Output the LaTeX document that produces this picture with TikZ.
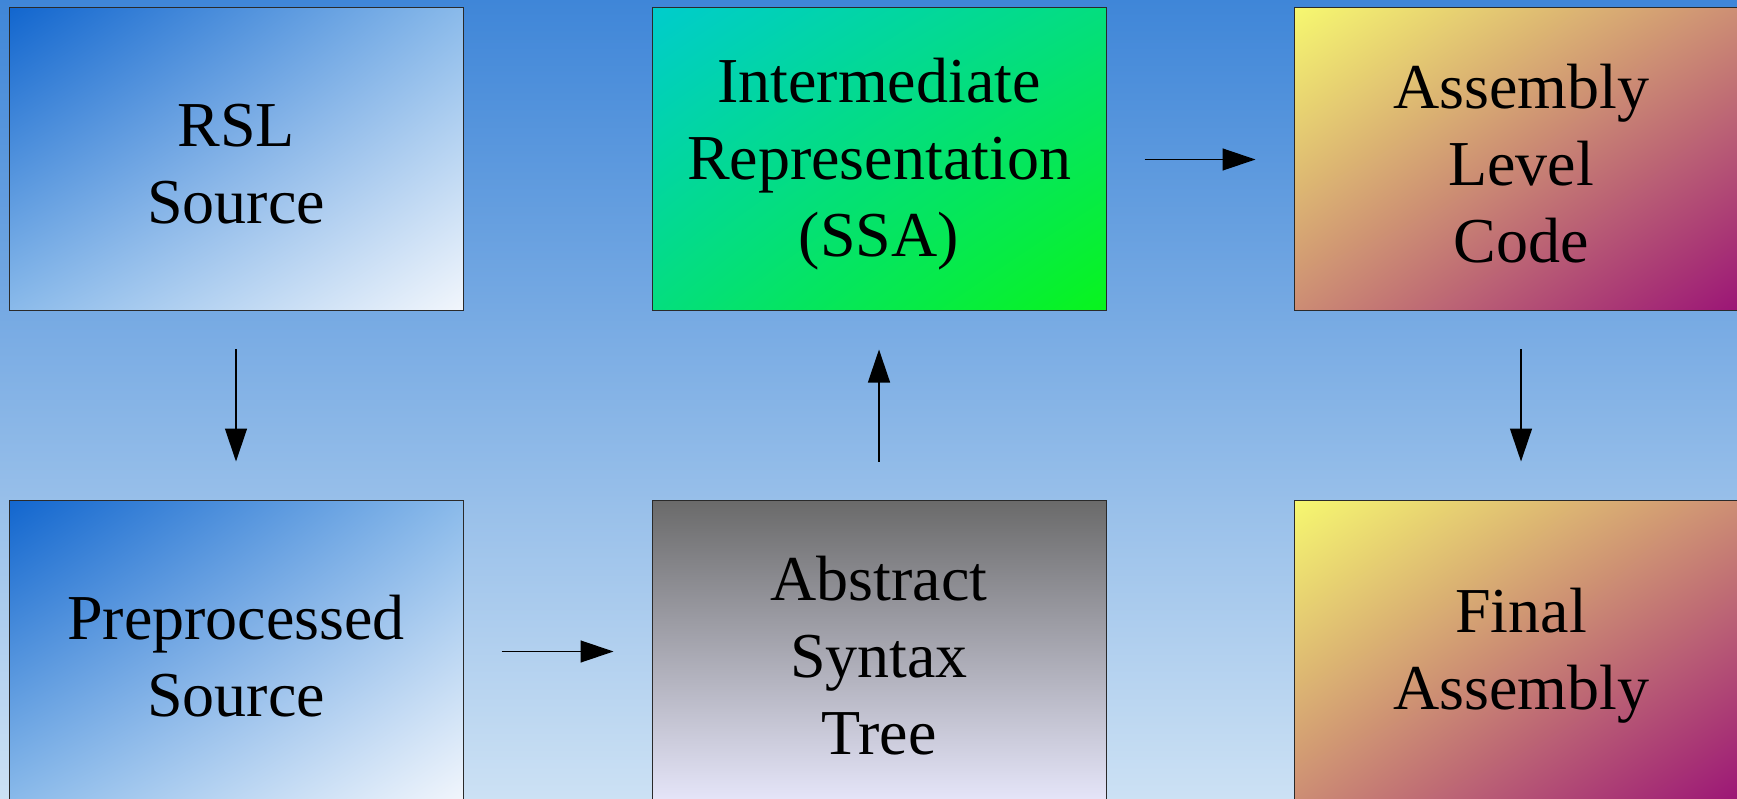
\documentclass[tikz,border=0pt]{standalone}
\usepackage{fontspec}
\setmainfont{Liberation Serif}
\usetikzlibrary{arrows.meta,shadings}
\definecolor{bgtop}{HTML}{3F86D8}
\definecolor{bgbot}{HTML}{CCE1F4}
\definecolor{blueA}{HTML}{1266CE}
\definecolor{blueM}{HTML}{8ABAEA}
\definecolor{blueB}{HTML}{F2F6FC}
\definecolor{cyanA}{HTML}{00CCCC}
\definecolor{cyanM}{HTML}{04DE7E}
\definecolor{greenB}{HTML}{08F51C}
\definecolor{yelA}{HTML}{F6F870}
\definecolor{tanM}{HTML}{CC8C74}
\definecolor{purB}{HTML}{9A1276}
\definecolor{grayA}{HTML}{6A6A6A}
\definecolor{lavB}{HTML}{E6E6FA}
\definecolor{edge}{HTML}{2A2A2A}
\tikzset{
  box/.style={draw=edge, line width=1pt, minimum width=454pt, minimum height=303pt,
    inner sep=0pt},
  boxtext/.style={align=center, font=\fontsize{64}{77}\selectfont, text=black,
    inner sep=0pt, yshift=-4.5pt},
  bluebox/.style={box, upper left=blueA, upper right=blueM, lower left=blueM, lower right=blueB},
  greenbox/.style={box, upper left=cyanA, upper right=cyanM, lower left=cyanM, lower right=greenB},
  warmbox/.style={box, upper left=yelA, upper right=tanM, lower left=tanM, lower right=purB},
  graybox/.style={box, top color=grayA, bottom color=lavB},
  flow/.style={draw=black, line width=1.3pt, -{Triangle[length=33pt,width=22pt]},
    shorten <=38pt, shorten >=38pt}
}
\begin{document}
\begin{tikzpicture}[x=1pt,y=-1pt]
\useasboundingbox (0,0) rectangle (1737,799);
\shade[top color=bgtop, bottom color=bgbot] (0,0) rectangle (1737,799);
\node[bluebox, label={[boxtext]center:RSL\\Source}] (rsl) at (236,159.5) {};
\node[greenbox, label={[boxtext]center:Intermediate\\Representation\\(SSA)}] (ir) at (879,159.5) {};
\node[warmbox, label={[boxtext]center:Assembly\\Level\\Code}] (asm) at (1521,159.5) {};
\node[bluebox, label={[boxtext]center:Preprocessed\\Source}] (pre) at (236,651.5) {};
\node[graybox, label={[boxtext]center:Abstract\\Syntax\\Tree}] (ast) at (879,651.5) {};
\node[warmbox, label={[boxtext]center:Final\\Assembly}] (fin) at (1521,651.5) {};
\draw[flow] (rsl) -- (pre);
\draw[flow] (pre) -- (ast);
\draw[flow] (ast) -- (ir);
\draw[flow] (ir) -- (asm);
\draw[flow] (asm) -- (fin);
\end{tikzpicture}
\end{document}
